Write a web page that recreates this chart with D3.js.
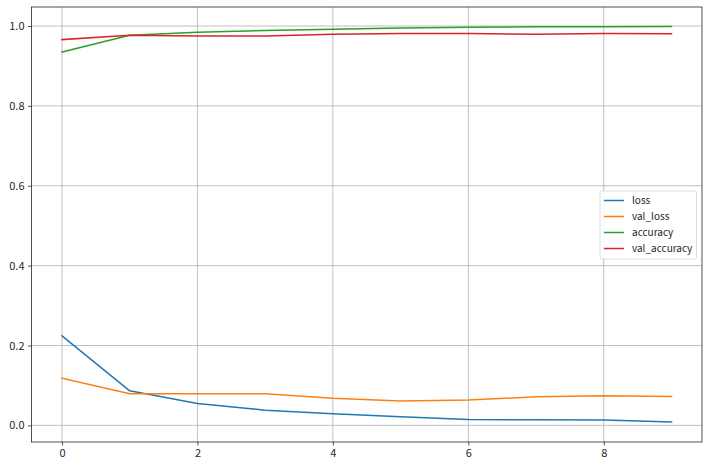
<!DOCTYPE html>
<html>
<head>
<meta charset="utf-8">
<script src="https://cdn.jsdelivr.net/npm/d3@7"></script>
<style>
  body { margin: 0; background: #fff; }
  text { font-family: "Noto Sans CJK KR", "DejaVu Sans", sans-serif; }
</style>
</head>
<body>
<svg id="chart" width="707" height="467"></svg>
<script>
const epochs = [0, 1, 2, 3, 4, 5, 6, 7, 8, 9];
const loss = [0.224, 0.0866, 0.055, 0.038, 0.029, 0.0216, 0.015, 0.014, 0.0133, 0.0083];
const valLoss = [0.118, 0.079, 0.079, 0.0795, 0.068, 0.061, 0.0633, 0.0716, 0.074, 0.0726];
const accuracy = [0.935, 0.977, 0.9845, 0.989, 0.9917, 0.9953, 0.997, 0.998, 0.998, 0.9987];
const valAccuracy = [0.966, 0.977, 0.9752, 0.975, 0.9795, 0.981, 0.981, 0.9795, 0.981, 0.9807];
const seriesNames = ["loss", "val_loss", "accuracy", "val_accuracy"];
const colors = ["#1f77b4", "#ff7f0e", "#2ca02c", "#d62728"];
const xTicks = [0, 2, 4, 6, 8];
const yTicks = [0.0, 0.2, 0.4, 0.6, 0.8, 1.0];

const series = [loss, valLoss, accuracy, valAccuracy];

const plotLeft = 31.5, plotRight = 702, plotTop = 7, plotBottom = 442;
const svg = d3.select("#chart");

const x = d3.scaleLinear().domain([-0.45, 9.45]).range([plotLeft, plotRight]);
const y = d3.scaleLinear().domain([-0.0416, 1.0476]).range([plotBottom, plotTop]);

// grid
svg.append("g")
    .attr("stroke", "#b0b0b0")
    .attr("stroke-width", 0.8)
  .selectAll("line")
  .data(xTicks)
  .join("line")
    .attr("x1", d => x(d)).attr("x2", d => x(d))
    .attr("y1", plotTop).attr("y2", plotBottom);

svg.append("g")
    .attr("stroke", "#b0b0b0")
    .attr("stroke-width", 0.8)
  .selectAll("line")
  .data(yTicks)
  .join("line")
    .attr("x1", plotLeft).attr("x2", plotRight)
    .attr("y1", d => y(d)).attr("y2", d => y(d));

// lines
const line = d3.line().x((d, i) => x(epochs[i])).y(d => y(d));
svg.append("g")
    .attr("fill", "none")
    .attr("stroke-width", 1.5)
  .selectAll("path")
  .data(series)
  .join("path")
    .attr("stroke", (d, i) => colors[i])
    .attr("stroke-linejoin", "round")
    .attr("stroke-linecap", "square")
    .attr("d", line);

// axes
const xAxis = d3.axisBottom(x).tickValues(xTicks).tickFormat(d3.format("d")).tickSize(3.5).tickPadding(3.5);
const yAxis = d3.axisLeft(y).tickValues(yTicks).tickFormat(d3.format(".1f")).tickSize(3.5).tickPadding(3.5);

svg.append("g")
    .attr("transform", `translate(0,${plotBottom})`)
    .call(xAxis)
    .call(g => g.select(".domain").remove())
    .call(g => g.selectAll("text").attr("font-size", 11).attr("fill", "#262626").attr("font-family", null))
    .call(g => g.selectAll("line").attr("stroke", "#262626").attr("stroke-width", 0.8));

svg.append("g")
    .attr("transform", `translate(${plotLeft},0)`)
    .call(yAxis)
    .call(g => g.select(".domain").remove())
    .call(g => g.selectAll("text").attr("font-size", 11).attr("fill", "#262626").attr("font-family", null))
    .call(g => g.selectAll("line").attr("stroke", "#262626").attr("stroke-width", 0.8));

// frame
svg.append("rect")
    .attr("x", plotLeft).attr("y", plotTop)
    .attr("width", plotRight - plotLeft).attr("height", plotBottom - plotTop)
    .attr("fill", "none")
    .attr("stroke", "#262626")
    .attr("stroke-width", 0.8);

// legend
const legend = svg.append("g").attr("transform", "translate(600,191)");
legend.append("rect")
    .attr("width", 96.5).attr("height", 68)
    .attr("rx", 2)
    .attr("fill", "#fff").attr("fill-opacity", 0.8)
    .attr("stroke", "#d6d6d6").attr("stroke-width", 0.8);

const item = legend.selectAll("g.item")
  .data(seriesNames)
  .join("g")
    .attr("class", "item")
    .attr("transform", (d, i) => `translate(0,${9.5 + i * 16})`);
item.append("line")
    .attr("x1", 4).attr("x2", 24)
    .attr("stroke", (d, i) => colors[i])
    .attr("stroke-width", 1.5);
item.append("text")
    .attr("x", 32)
    .attr("dy", "0.35em")
    .attr("font-size", 10)
    .attr("fill", "#262626")
    .text(d => d);
</script>
</body>
</html>
